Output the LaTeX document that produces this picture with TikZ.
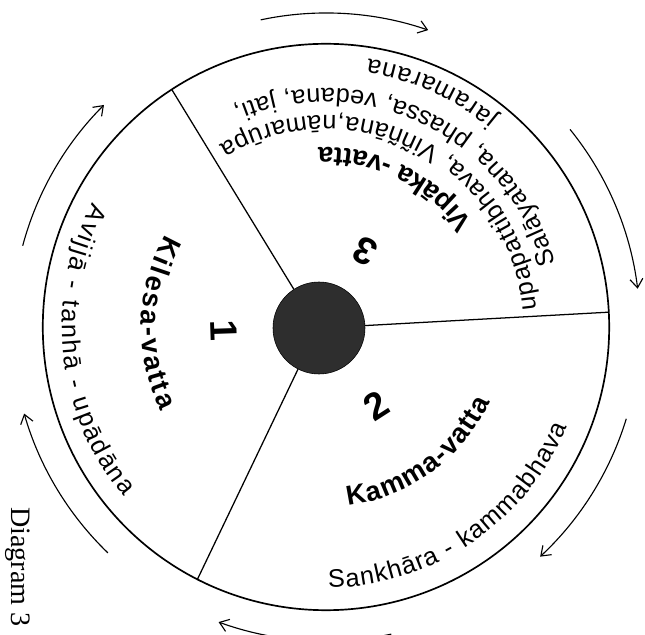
\documentclass[tikz,border=0pt]{standalone}
\usepackage{fontspec}
\setmainfont{Liberation Serif}
\setsansfont{Liberation Sans}
\usetikzlibrary{arrows.meta, decorations.text}
\newcommand{\wheelfont}{\sffamily\fontsize{18}{21}\selectfont}
\newcommand{\wheelbold}{\sffamily\bfseries\fontsize{19.5}{23}\selectfont}

\begin{document}
\begin{tikzpicture}[>={Straight Barb[length=2.2mm,width=3.2mm]}, every node/.style={align=center},
    rimtext/.style 2 args={decorate, decoration={text along path, text={|#1|#2}, text align={fit to path}}},
    bignum/.style={font=\sffamily\bfseries\fontsize{27}{30}\selectfont, inner sep=0pt}]
    \useasboundingbox ({-8.15},{-7.7}) rectangle ({7.975},{8.175});

    % wheel and hub
    \draw[line width=1.2pt] ({0},{0}) circle ({7.08});
    \node[circle, fill=black!82, draw=black, minimum size=2.3cm, inner sep=0pt] (hub) at ({-0.175},{-0.025}) {};
    \coordinate (rimA) at ({123}:{7.08});
    \coordinate (rimB) at ({3}:{7.08});
    \coordinate (rimC) at ({243}:{7.08});
    \draw[line width=0.9pt] (hub.123) -- (rimA);
    \draw[line width=0.9pt] (hub.3) -- (rimB);
    \draw[line width=0.9pt] (hub.243) -- (rimC);

    % turning arrows round the wheel
    \foreach \a/\b in {102/71, 39/7, -17/-47, -78/-110, -134/-164, 165/135}
        \draw[->, line width=0.8pt] ({\a}:{7.85}) arc[start angle=\a, end angle=\b, radius=7.85];

    % sector 1
    \node[bignum, rotate=-88] (one) at ({182}:{2.55}) {1};
    \path[rimtext={\wheelbold}{Kilesa-vatta}] ({150}:{4.62}) arc[start angle=150, end angle=207, radius=4.62];
    \path[rimtext={\wheelfont}{Avijjā - tanhā - upādāna}] ({152}:{6.6}) arc[start angle=152, end angle=220, radius=6.6];

    % sector 2
    \node[bignum, rotate=32.7] (two) at ({-57.3}:{2.33}) {2};
    \path[rimtext={\wheelbold}{Kamma-vatta}] ({-83}:{4.5}) arc[start angle=-83, end angle=-24.5, radius=4.5];
    \path[rimtext={\wheelfont}{Sankhāra - kammabhava}] ({-89.5}:{6.52}) arc[start angle=-89.5, end angle=-22.5, radius=6.52];

    % sector 3
    \node[bignum, rotate=152.8] (three) at ({62.8}:{2.13}) {3};
    \path[rimtext={\wheelbold}{Vipāka -vatta}] ({35.5}:{4.48}) arc[start angle=35.5, end angle=92.5, radius=4.48];
    \path[rimtext={\wheelfont}{upapattibhava, Viññāna,nāmarūpa}] ({4.8}:{5.28}) arc[start angle=4.8, end angle=120.5, radius=5.28];
    \path[rimtext={\wheelfont}{Salāyatana, phassa, vedana, jati,}] ({15.5}:{5.96}) arc[start angle=15.5, end angle=113, radius=5.96];
    \path[rimtext={\wheelfont}{jaramarana}] ({50.5}:{6.78}) arc[start angle=50.5, end angle=81, radius=6.78];

    \node[rotate=-90, font=\fontsize{20}{23}\selectfont, inner sep=0pt] (caption) at ({-7.7},{-6.0}) {Diagram 3};
\end{tikzpicture}
\end{document}
